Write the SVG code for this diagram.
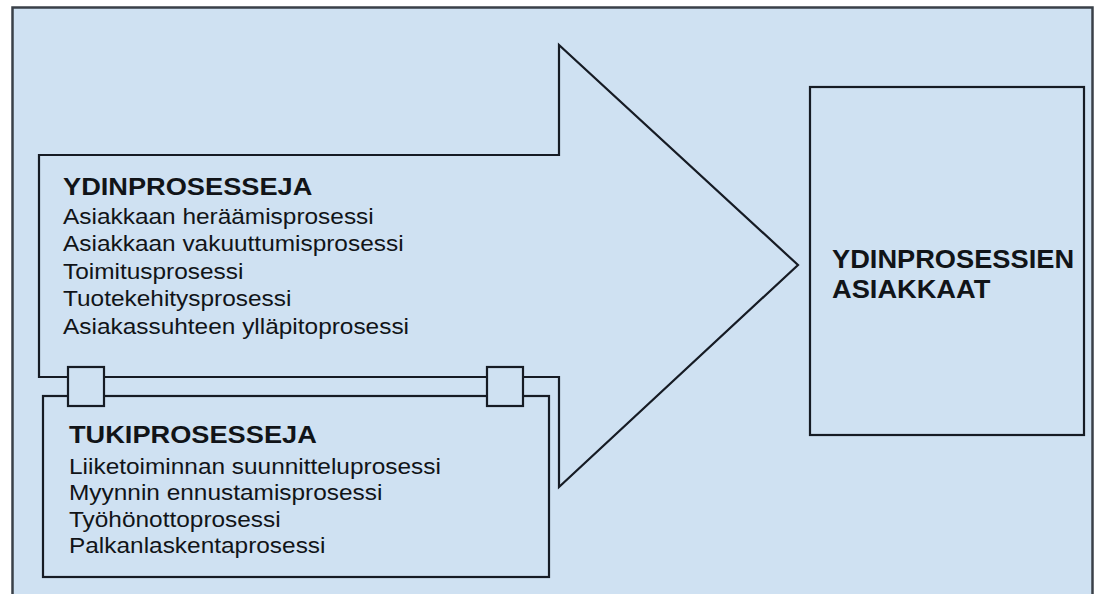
<svg xmlns="http://www.w3.org/2000/svg" width="1094" height="594" viewBox="0 0 1094 594">
  <style>
    .frame { fill: #cfe1f2; stroke: #3a4048; stroke-width: 2.5; }
    .shape { fill: #cfe1f2; stroke: #161b24; stroke-width: 2.2; stroke-linejoin: miter; }
    .txt { font-family: "Liberation Sans", Arial, sans-serif; fill: #111418; }
    .head { font-weight: bold; font-size: 24.5px; }
    .item { font-size: 22px; }
    .big { font-weight: bold; font-size: 25px; }
  </style>

  <rect width="1094" height="594" fill="#ffffff"/>

  <!-- outer panel -->
  <rect id="panel" class="frame" x="12.5" y="7.5" width="1080" height="600"/>

  <!-- core process arrow -->
  <g id="core-processes">
    <path class="shape" d="M39,155 L559,155 L559,45 L798,265 L559,487 L559,377 L39,377 Z"/>
    <g class="txt" transform="translate(63,0) scale(1.11,1)">
      <text class="head" x="0" y="195">YDINPROSESSEJA</text>
      <text class="item" x="0" y="224">Asiakkaan heräämisprosessi</text>
      <text class="item" x="0" y="251.5">Asiakkaan vakuuttumisprosessi</text>
      <text class="item" x="0" y="279">Toimitusprosessi</text>
      <text class="item" x="0" y="306.5">Tuotekehitysprosessi</text>
      <text class="item" x="0" y="334">Asiakassuhteen ylläpitoprosessi</text>
    </g>
  </g>

  <!-- support process box -->
  <g id="support-processes">
    <rect class="shape" x="43" y="396" width="506" height="181"/>
    <g class="txt" transform="translate(69,0) scale(1.11,1)">
      <text class="head" x="0" y="443">TUKIPROSESSEJA</text>
      <text class="item" x="0" y="474">Liiketoiminnan suunnitteluprosessi</text>
      <text class="item" x="0" y="500.5">Myynnin ennustamisprosessi</text>
      <text class="item" x="0" y="527">Työhönottoprosessi</text>
      <text class="item" x="0" y="553.5">Palkanlaskentaprosessi</text>
    </g>
  </g>

  <!-- joints linking the two process layers -->
  <g id="connectors">
    <rect class="shape" x="68" y="367" width="36" height="39"/>
    <rect class="shape" x="487" y="367" width="36" height="39"/>
  </g>

  <!-- customers box -->
  <g id="customers">
    <rect class="shape" x="810" y="87" width="274" height="348"/>
    <g class="txt" transform="translate(832,0) scale(1.09,1)">
      <text class="big" x="0" y="268">YDINPROSESSIEN</text>
      <text class="big" x="0" y="298">ASIAKKAAT</text>
    </g>
  </g>
</svg>
